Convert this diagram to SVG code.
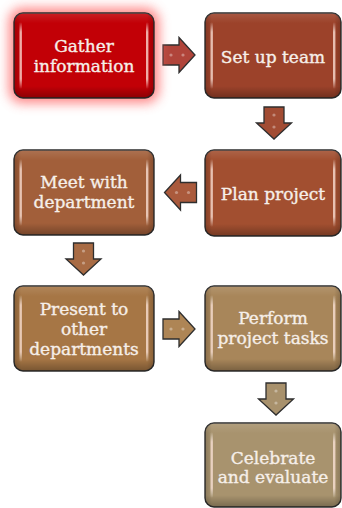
<svg xmlns="http://www.w3.org/2000/svg" xmlns:xlink="http://www.w3.org/1999/xlink" width="342" height="508" viewBox="0 0 342 508">
<defs>
<style>
.box{stroke:#2e2e2e;stroke-width:1.4}
.lbl{font-family:"DejaVu Serif","Liberation Serif",serif;font-size:17px;fill:#f6efe9;stroke:#f6efe9;stroke-width:0.35;text-anchor:middle}
.arr{stroke:#2e2e2e;stroke-width:1.3;stroke-linejoin:miter}
.dot{fill:#ffffff;fill-opacity:0.35}
</style>
<linearGradient id="vshade" x1="0" y1="0" x2="0" y2="1">
<stop offset="0" stop-color="#fff" stop-opacity="0.12"/>
<stop offset="0.12" stop-color="#fff" stop-opacity="0"/>
<stop offset="0.86" stop-color="#000" stop-opacity="0"/>
<stop offset="1" stop-color="#000" stop-opacity="0.28"/>
</linearGradient>
<linearGradient id="hshade" x1="0" y1="0" x2="1" y2="0">
<stop offset="0" stop-color="#000" stop-opacity="0.18"/>
<stop offset="0.05" stop-color="#000" stop-opacity="0"/>
<stop offset="0.95" stop-color="#000" stop-opacity="0"/>
<stop offset="1" stop-color="#000" stop-opacity="0.18"/>
</linearGradient>
<linearGradient id="strip" x1="0" y1="0" x2="0" y2="1">
<stop offset="0" stop-color="#fff" stop-opacity="0"/>
<stop offset="0.15" stop-color="#ffe6dc" stop-opacity="0.75"/>
<stop offset="0.85" stop-color="#ffe6dc" stop-opacity="0.75"/>
<stop offset="1" stop-color="#fff" stop-opacity="0"/>
</linearGradient>
<filter id="glow" x="-40%" y="-40%" width="180%" height="180%">
<feGaussianBlur stdDeviation="6"/>
</filter>
<path id="ar" d="M-16,-10 H0 V-17.5 L16,0 L0,17.5 V10 H-16 Z"/>
</defs>

<g id="connectors">
<g transform="translate(179,55)"><use xlink:href="#ar" class="arr" fill="#b0443a"/><circle class="dot" cx="-8" cy="0" r="1.6"/><circle class="dot" cx="4" cy="0" r="1.6"/></g>
<g transform="translate(274,123) rotate(90)"><use xlink:href="#ar" class="arr" fill="#a24c33"/><circle class="dot" cx="-8" cy="0" r="1.6"/><circle class="dot" cx="4" cy="0" r="1.6"/></g>
<g transform="translate(180.5,192.5) rotate(180)"><use xlink:href="#ar" class="arr" fill="#aa5a3c"/><circle class="dot" cx="-8" cy="0" r="1.6"/><circle class="dot" cx="4" cy="0" r="1.6"/></g>
<g transform="translate(83.5,259) rotate(90)"><use xlink:href="#ar" class="arr" fill="#a86b44"/><circle class="dot" cx="-8" cy="0" r="1.6"/><circle class="dot" cx="4" cy="0" r="1.6"/></g>
<g transform="translate(179,329)"><use xlink:href="#ar" class="arr" fill="#ae8555"/><circle class="dot" cx="-8" cy="0" r="1.6"/><circle class="dot" cx="4" cy="0" r="1.6"/></g>
<g transform="translate(276,399) rotate(90)"><use xlink:href="#ar" class="arr" fill="#a8916c"/><circle class="dot" cx="-8" cy="0" r="1.6"/><circle class="dot" cx="4" cy="0" r="1.6"/></g>
</g>

<g id="n1">
<rect x="9" y="8" width="150" height="95" rx="13" fill="#ff7070" opacity="0.85" filter="url(#glow)"/>
<rect class="box" x="14" y="13" width="140" height="85" rx="9" fill="#c20006"/>
<rect x="14" y="13" width="140" height="85" rx="9" fill="url(#vshade)"/>
<rect x="14" y="13" width="140" height="85" rx="9" fill="url(#hshade)"/>
<rect x="19.5" y="22" width="2.4" height="67" rx="1.2" fill="url(#strip)"/>
<rect x="146" y="22" width="2.4" height="67" rx="1.2" fill="url(#strip)"/>
<text class="lbl" x="84" y="52">Gather</text>
<text class="lbl" x="84" y="72">information</text>
</g>

<g id="n2">
<rect class="box" x="205" y="13" width="136" height="85" rx="9" fill="#9c422a"/>
<rect x="205" y="13" width="136" height="85" rx="9" fill="url(#vshade)"/>
<rect x="205" y="13" width="136" height="85" rx="9" fill="url(#hshade)"/>
<rect x="210.5" y="22" width="2.4" height="67" rx="1.2" fill="url(#strip)"/>
<rect x="333" y="22" width="2.4" height="67" rx="1.2" fill="url(#strip)"/>
<text class="lbl" x="273" y="63">Set up team</text>
</g>

<g id="n3">
<rect class="box" x="205" y="150" width="136" height="86" rx="9" fill="#a24f30"/>
<rect x="205" y="150" width="136" height="86" rx="9" fill="url(#vshade)"/>
<rect x="205" y="150" width="136" height="86" rx="9" fill="url(#hshade)"/>
<rect x="210.5" y="159" width="2.4" height="68" rx="1.2" fill="url(#strip)"/>
<rect x="333" y="159" width="2.4" height="68" rx="1.2" fill="url(#strip)"/>
<text class="lbl" x="273" y="199.5">Plan project</text>
</g>

<g id="n4">
<rect class="box" x="14" y="150" width="140" height="85" rx="9" fill="#a25f3a"/>
<rect x="14" y="150" width="140" height="85" rx="9" fill="url(#vshade)"/>
<rect x="14" y="150" width="140" height="85" rx="9" fill="url(#hshade)"/>
<rect x="19.5" y="159" width="2.4" height="67" rx="1.2" fill="url(#strip)"/>
<rect x="146" y="159" width="2.4" height="67" rx="1.2" fill="url(#strip)"/>
<text class="lbl" x="84" y="188">Meet with</text>
<text class="lbl" x="84" y="208">department</text>
</g>

<g id="n5">
<rect class="box" x="14" y="286" width="140" height="85" rx="9" fill="#a67645"/>
<rect x="14" y="286" width="140" height="85" rx="9" fill="url(#vshade)"/>
<rect x="14" y="286" width="140" height="85" rx="9" fill="url(#hshade)"/>
<rect x="19.5" y="295" width="2.4" height="67" rx="1.2" fill="url(#strip)"/>
<rect x="146" y="295" width="2.4" height="67" rx="1.2" fill="url(#strip)"/>
<text class="lbl" x="84" y="315">Present to</text>
<text class="lbl" x="84" y="335">other</text>
<text class="lbl" x="84" y="355">departments</text>
</g>

<g id="n6">
<rect class="box" x="205" y="286" width="136" height="85" rx="9" fill="#a8865a"/>
<rect x="205" y="286" width="136" height="85" rx="9" fill="url(#vshade)"/>
<rect x="205" y="286" width="136" height="85" rx="9" fill="url(#hshade)"/>
<rect x="210.5" y="295" width="2.4" height="67" rx="1.2" fill="url(#strip)"/>
<rect x="333" y="295" width="2.4" height="67" rx="1.2" fill="url(#strip)"/>
<text class="lbl" x="273" y="324">Perform</text>
<text class="lbl" x="273" y="344">project tasks</text>
</g>

<g id="n7">
<rect class="box" x="205" y="423" width="136" height="84" rx="9" fill="#a8936e"/>
<rect x="205" y="423" width="136" height="84" rx="9" fill="url(#vshade)"/>
<rect x="205" y="423" width="136" height="84" rx="9" fill="url(#hshade)"/>
<rect x="210.5" y="432" width="2.4" height="66" rx="1.2" fill="url(#strip)"/>
<rect x="333" y="432" width="2.4" height="66" rx="1.2" fill="url(#strip)"/>
<text class="lbl" x="273" y="464">Celebrate</text>
<text class="lbl" x="273" y="483">and evaluate</text>
</g>
</svg>
